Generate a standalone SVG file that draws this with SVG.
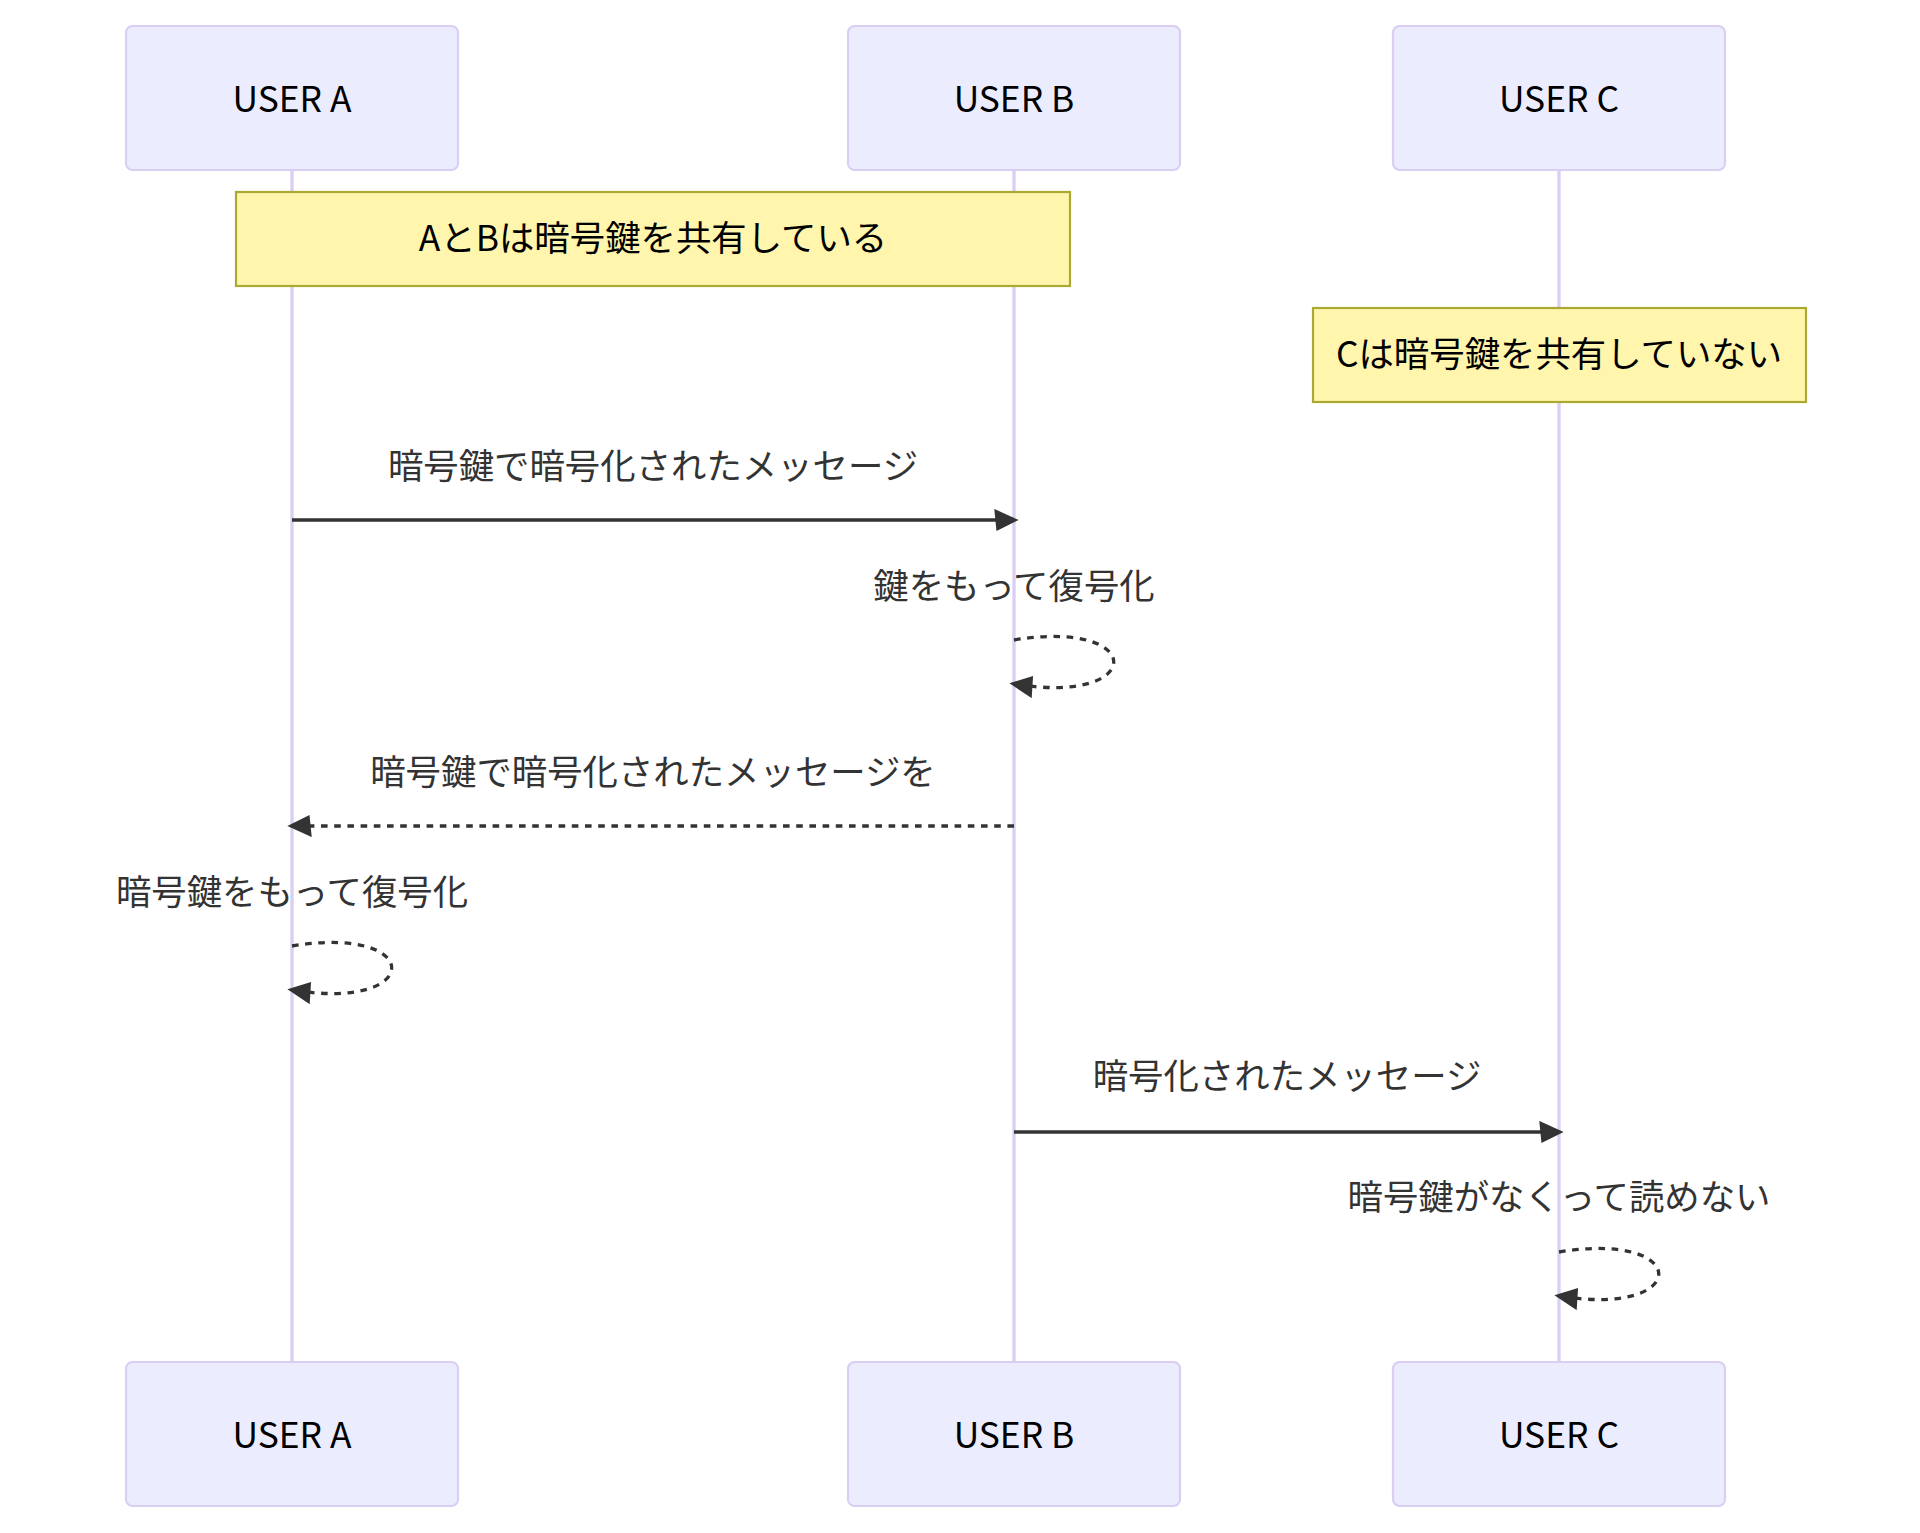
<svg xmlns="http://www.w3.org/2000/svg" width="1920" height="1533" viewBox="0 0 1920 1533">
<style>
  .actor { fill: #ECECFF; stroke: hsl(259.6, 59.8%, 87.9%); stroke-width: 2.2; }
  .actor-text { font-family: "Noto Sans CJK JP", "Noto Sans", sans-serif; font-size: 35.4px; fill: #000; text-anchor: middle; dominant-baseline: central; }
  .lifeline { stroke: hsl(259.6, 59.8%, 87.9%); stroke-width: 3.3; fill: none; }
  .note { fill: #fff5ad; stroke: #aaaa33; stroke-width: 2.2; }
  .note-text { font-family: "Noto Sans CJK JP", "Noto Sans", sans-serif; font-size: 35.4px; fill: #000; text-anchor: middle; dominant-baseline: central; }
  .msg-text { font-family: "Noto Sans CJK JP", "Noto Sans", sans-serif; font-size: 35.4px; fill: #333; text-anchor: middle; dominant-baseline: central; }
  .solid { stroke: #333; stroke-width: 3.3; fill: none; marker-end: url(#arrowhead); }
  .dotted { stroke: #333; stroke-width: 3.3; fill: none; stroke-dasharray: 6.6 6.6; marker-end: url(#arrowhead); }
</style>
<defs>
  <marker id="arrowhead" viewBox="-1 0 12 12" refX="7.9" refY="5" markerUnits="userSpaceOnUse" markerWidth="26.6" markerHeight="26.6" orient="auto">
    <path d="M -1 0 L 10 5 L 0 10 z" fill="#333"/>
  </marker>
</defs>
<rect width="1920" height="1533" fill="#fff"/>
<g id="lifelines">
  <line class="lifeline" x1="292" y1="170" x2="292" y2="1362"/>
  <line class="lifeline" x1="1014" y1="170" x2="1014" y2="1362"/>
  <line class="lifeline" x1="1559" y1="170" x2="1559" y2="1362"/>
</g>
<g id="actor-a-top">
  <rect class="actor" x="126" y="26" width="332" height="144" rx="6.6"/>
  <text class="actor-text" x="292" y="96">USER A</text>
</g>
<g id="actor-b-top">
  <rect class="actor" x="848" y="26" width="332" height="144" rx="6.6"/>
  <text class="actor-text" x="1014" y="96">USER B</text>
</g>
<g id="actor-c-top">
  <rect class="actor" x="1393" y="26" width="332" height="144" rx="6.6"/>
  <text class="actor-text" x="1559" y="96">USER C</text>
</g>
<g id="note-ab">
  <rect class="note" x="236" y="192" width="834" height="94"/>
  <text class="note-text" x="653" y="235">AとBは暗号鍵を共有している</text>
</g>
<g id="note-c">
  <rect class="note" x="1313" y="308" width="493" height="94"/>
  <text class="note-text" x="1559" y="351">Cは暗号鍵を共有していない</text>
</g>
<g id="connectors">
  <text class="msg-text" x="653" y="463">暗号鍵で暗号化されたメッセージ</text>
  <line class="solid" x1="292" y1="520" x2="1014" y2="520"/>
  <text class="msg-text" x="1014" y="583">鍵をもって復号化</text>
  <path class="dotted" d="M 1014 640 C 1147 618, 1147 706, 1014 684"/>
  <text class="msg-text" x="653" y="769">暗号鍵で暗号化されたメッセージを</text>
  <line class="dotted" x1="1014" y1="826" x2="292" y2="826"/>
  <text class="msg-text" x="292" y="889">暗号鍵をもって復号化</text>
  <path class="dotted" d="M 292 946 C 425 924, 425 1012, 292 990"/>
  <text class="msg-text" x="1287" y="1073">暗号化されたメッセージ</text>
  <line class="solid" x1="1014" y1="1132" x2="1559" y2="1132"/>
  <text class="msg-text" x="1559" y="1194">暗号鍵がなくって読めない</text>
  <path class="dotted" d="M 1559 1252 C 1692 1230, 1692 1318, 1559 1296"/>
</g>
<g id="actor-a-bottom">
  <rect class="actor" x="126" y="1362" width="332" height="144" rx="6.6"/>
  <text class="actor-text" x="292" y="1432">USER A</text>
</g>
<g id="actor-b-bottom">
  <rect class="actor" x="848" y="1362" width="332" height="144" rx="6.6"/>
  <text class="actor-text" x="1014" y="1432">USER B</text>
</g>
<g id="actor-c-bottom">
  <rect class="actor" x="1393" y="1362" width="332" height="144" rx="6.6"/>
  <text class="actor-text" x="1559" y="1432">USER C</text>
</g>
</svg>
